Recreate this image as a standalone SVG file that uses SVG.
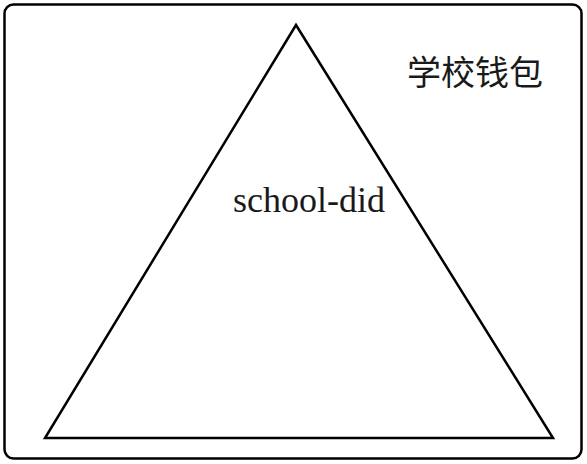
<svg xmlns="http://www.w3.org/2000/svg" width="587" height="464" viewBox="0 0 587 464">
<style>
.ln{fill:none;stroke:#000;stroke-width:2.5;stroke-linejoin:miter}
.t{fill:#1a1a1a}
</style>
<rect width="587" height="464" fill="#fff"/>
<g id="frame"><rect class="ln" x="4.5" y="4.5" width="577" height="454" rx="9"/></g>
<g id="triangle"><polygon class="ln" points="296,25 45,438 553,438"/></g>
<g id="labels">
<text class="t" x="407" y="85" font-family="'Noto Sans CJK SC', sans-serif" font-size="34">学校钱包</text>
<text class="t" x="233" y="212" font-family="'Liberation Serif', serif" font-size="36">school-did</text>
</g>
</svg>
